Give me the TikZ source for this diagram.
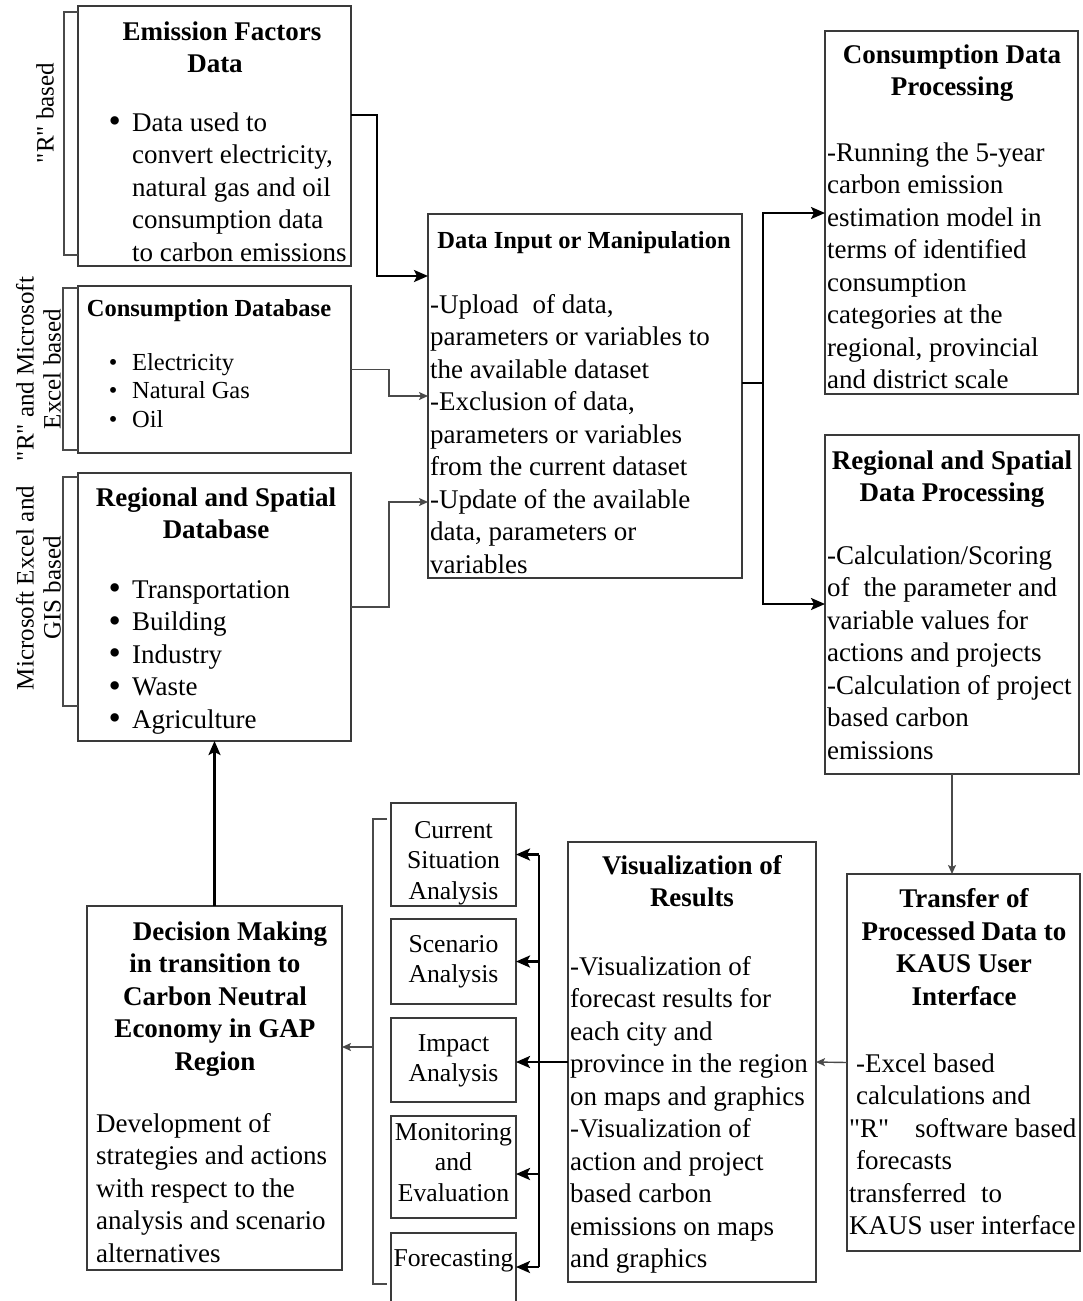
\documentclass[tikz,border=0pt]{standalone}
\usepackage{graphicx}
\usepackage{fontspec}
\setmainfont{Liberation Serif}
% a second face of the same serif, without the TeX input mapping, so that " stays straight
\newfontfamily\straightq{Liberation Serif}
\usetikzlibrary{arrows.meta}
\definecolor{boxgray}{HTML}{3A3A3A}
\definecolor{linegray}{HTML}{4A4A4A}
\newcommand\listdot[1]{\makebox[#1][l]{\raisebox{-1.5pt}{\scalebox{1.3}{•}}}}
\newcommand\listdotsm[1]{\makebox[#1][l]{•}}
\newcommand\qR{{\straightq "R"}}

\begin{document}
\begin{tikzpicture}[x=1pt,y=-1pt,
  box/.style={draw=boxgray, line width=1.4pt, rectangle, inner sep=0pt, outer sep=0pt, anchor=north west},
  body/.style={inner sep=0pt, anchor=north west, align=left, font=\fontsize{27}{32.5}\selectfont},
  head/.style={inner sep=0pt, anchor=north, align=center, font=\fontsize{27}{32.5}\selectfont\bfseries},
  headsm/.style={inner sep=0pt, anchor=north, align=center, font=\fontsize{24.5}{28.5}\selectfont\bfseries},
  listsm/.style={inner sep=0pt, anchor=north west, align=left, font=\fontsize{24.5}{28.5}\selectfont},
  small/.style={inner sep=0pt, anchor=north, align=center, font=\fontsize{25.7}{30.5}\selectfont},
  side/.style={inner sep=0pt, rotate=90, align=center, font=\fontsize{25}{27}\selectfont},
  thickarrow/.style={draw=black, line width=2.4pt, -{Stealth[length=14pt,width=12pt,inset=3pt]}},
  thickline/.style={draw=black, line width=2.4pt},
  thinarrow/.style={draw=linegray, line width=1.4pt, -{Stealth[length=9pt,width=8pt,inset=2pt]}},
  bracket/.style={draw=linegray, line width=1.3pt}
]
\useasboundingbox (0,0) rectangle (1082,1301);
\clip (0,0) rectangle (1082,1301);
\fill[white] (0,0) rectangle (1082,1301);

% ---------- boxes ----------
\node[box, minimum width=273pt, minimum height=260pt] (ef)  at (78,6)    {};
\node[box, minimum width=273pt, minimum height=167pt] (cdb) at (78,286)  {};
\node[box, minimum width=273pt, minimum height=268pt] (rdb) at (78,473)  {};
\node[box, minimum width=314pt, minimum height=364pt] (din) at (428,214) {};
\node[box, minimum width=253pt, minimum height=363pt] (cdp) at (825,31)  {};
\node[box, minimum width=254pt, minimum height=339pt] (rsp) at (825,435) {};
\node[box, minimum width=233pt, minimum height=377pt] (tr)  at (847,874) {};
\node[box, minimum width=248pt, minimum height=440pt] (vis) at (568,842) {};
\node[box, minimum width=255pt, minimum height=364pt] (dec) at (87,906)  {};
\node[box, minimum width=125pt, minimum height=103pt] (s1)  at (391,803) {};
\node[box, minimum width=125pt, minimum height=85pt]  (s2)  at (391,919) {};
\node[box, minimum width=125pt, minimum height=84pt]  (s3)  at (391,1018) {};
\node[box, minimum width=125pt, minimum height=102pt] (s4)  at (391,1116) {};
\node[box, minimum width=125pt, minimum height=100pt] (s5)  at (391,1233) {};

% ---------- box texts ----------
\node[head] (efh) at (215,17.25) {\strut\hspace*{14pt}Emission Factors\\Data};
\node[body] (efb) at (108.3,108.25) {\strut\listdot{23.7pt}Data used to\\
  \hspace*{23.7pt}convert electricity,\\\hspace*{23.7pt}natural gas and oil\\
  \hspace*{23.7pt}consumption data\\\hspace*{23.7pt}to carbon emissions};

\node[headsm] (cdbh) at (209,296.05) {\strut Consumption Database};
\node[listsm] (cdbl) at (108.7,350.05) {\strut\listdotsm{23.3pt}Electricity\\
  \listdotsm{23.3pt}Natural Gas\\\listdotsm{23.3pt}Oil};

\node[head] (rdbh) at (216,483.25) {\strut Regional and Spatial\\Database};
\node[body] (rdbl) at (108.3,575.25) {\strut\listdot{23.7pt}Transportation\\
  \listdot{23.7pt}Building\\\listdot{23.7pt}Industry\\
  \listdot{23.7pt}Waste\\\listdot{23.7pt}Agriculture};

\node[headsm] (dinh) at (584,228.05) {\strut Data Input or Manipulation};
\node[body] (dinb) at (430,290.25) {\strut-Upload\hspace{14pt}of data,\\parameters or variables to\\
  the available dataset\\-Exclusion of data,\\parameters or variables\\from the current dataset\\
  -Update of the available\\data, parameters or\\variables};

\node[head] (cdph) at (952,40.25) {\strut Consumption Data\\Processing};
\node[body] (cdpb) at (827,138.25) {\strut-Running the 5-year\\carbon emission\\estimation model in\\
  terms of identified\\consumption\\categories at the\\regional, provincial\\and district scale};

\node[head] (rsph) at (952,446.25) {\strut Regional and Spatial\\Data Processing};
\node[body] (rspb) at (827,541.25) {\strut-Calculation/Scoring\\of\hspace{14pt}the parameter and\\
  variable values for\\actions and projects\\-Calculation of project\\based carbon\\emissions};

\node[head] (trh) at (964,884.75) {\strut Transfer of\\Processed Data to\\KAUS User\\Interface};
\node[body] (trb) at (849,1049.25) {\strut\hspace*{7pt}-Excel based\\\hspace*{7pt}calculations and\\
  \qR\hspace{26pt}software based\\\hspace*{7pt}forecasts\\transferred\hspace{15pt}to\\KAUS user interface};

\node[head] (vish) at (692,851.25) {\strut Visualization of\\Results};
\node[body] (visb) at (570,952.25) {\strut-Visualization of\\forecast results for\\each city and\\
  province in the region\\on maps and graphics\\-Visualization of\\action and project\\
  based carbon\\emissions on maps\\and graphics};

\node[head] (dech) at (215,917.25) {\strut\hspace*{30pt}Decision Making\\in transition to\\
  Carbon Neutral\\Economy in GAP\\Region};
\node[body] (decb) at (96,1109.25) {\strut Development of\\strategies and actions\\
  with respect to the\\analysis and scenario\\alternatives};

\node[small] (s1t) at (453.5,816.65)  {\strut Current\\Situation\\Analysis};
\node[small] (s2t) at (453.5,930.65)  {\strut Scenario\\Analysis};
\node[small] (s3t) at (453.5,1029.65) {\strut Impact\\Analysis};
\node[small] (s4t) at (453.5,1118.65) {\strut Monitoring\\and\\Evaluation};
\node[small] (s5t) at (453.5,1244.65) {\strut Forecasting};

% ---------- side labels and brackets ----------
\node[side] (lab1) at (45,113)   {\qR{} based};
\node[side] (lab2) at (38.5,369) {\qR{} and Microsoft\\Excel based};
\node[side] (lab3) at (38.5,588) {Microsoft Excel and\\GIS based};

\draw[bracket] ([yshift=-6pt]ef.north west) -- ++(-14,0) -- ++(0,243) -- ++(14,0);
\draw[bracket] ([yshift=-2pt]cdb.north west) -- ++(-15,0) -- ++(0,162) -- ++(15,0);
\draw[bracket] ([yshift=-4pt]rdb.north west) -- ++(-15,0) -- ++(0,229) -- ++(15,0);

\coordinate (sbtop) at ([xshift=-4pt,yshift=-16pt]s1.north west);
\coordinate (sbbot) at ([xshift=-4pt,yshift=-51pt]s5.north west);
\coordinate (bmid)  at ([xshift=-18pt,yshift=-29pt]s3.north west);
\draw[bracket] (sbtop) -- ++(-14,0) |- (sbbot);

% ---------- connectors ----------
% inputs to the data input box
\draw[thickarrow] ([yshift=-109pt]ef.north east) -- ++(26,0) |- ([yshift=-62pt]din.north west);
\draw[thinarrow] (cdb.east) -- ++(38,0) |- (din.west);
\draw[thinarrow] (rdb.east) -- ++(38,0) |- ([yshift=-288pt]din.north west);

% data input to the two processing boxes
\coordinate (j1) at ([xshift=21pt,yshift=-169pt]din.north east);
\draw[thickline] ([yshift=-169pt]din.north east) -- (j1);
\draw[thickarrow] (j1) |- ([yshift=-182pt]cdp.north west);
\draw[thickarrow] (j1) |- ([yshift=-169pt]rsp.north west);

% processing to transfer to visualization
\draw[thinarrow] (rsp.south) -- (rsp.south |- tr.north);
\draw[thinarrow] (tr.west) -- (vis.west -| vis.east);

% visualization to the analysis boxes
\coordinate (vx) at ([xshift=-29pt]vis.west);
\coordinate (vxend) at ([yshift=-34pt]s5.north east -| vx);
\draw[thickline] (vx |- s1.east) -- (vxend);
\draw[thickarrow] (vis.west) -- (vis.west -| s3.east);
\draw[thickarrow] (vx |- s1.east) -- (s1.east);
\draw[thickarrow] (vx |- s2.east) -- (s2.east);
\draw[thickarrow] (vx |- s4.east) ++(0,7) -- ([yshift=-58pt]s4.north east);
\draw[thickarrow] (vxend) -- ([yshift=-34pt]s5.north east);

% analysis group to decision making, and back to the regional database
\draw[thinarrow] (bmid) -- (bmid -| dec.east);
\draw[thickarrow] (dec.north) -- (rdb.south);
\end{tikzpicture}
\end{document}
